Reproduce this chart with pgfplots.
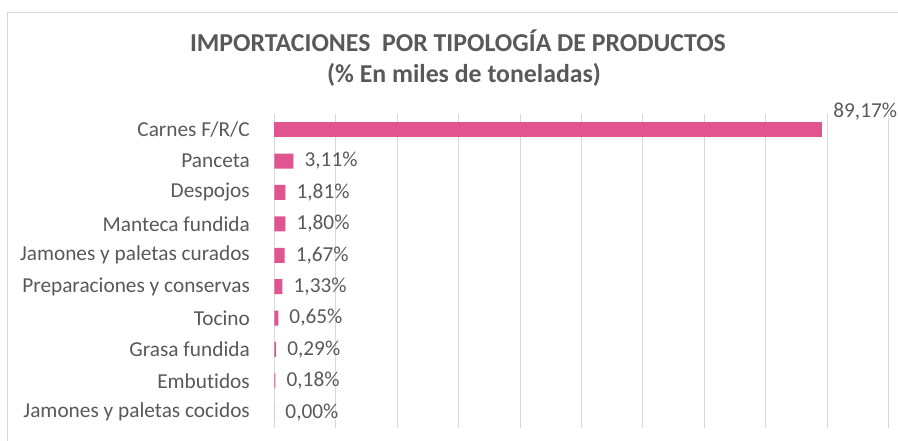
\documentclass[border=0pt]{standalone}
\usepackage{pgfplots}
\pgfplotsset{compat=1.18}
\usepackage{fontspec}
\setmainfont{Carlito}[Ligatures=NoCommon]
\definecolor{barpink}{RGB}{224,85,143}
\definecolor{txtgray}{RGB}{89,89,89}
\definecolor{gridgray}{RGB}{217,217,217}
\begin{document}
\begin{tikzpicture}[x=1pt,y=1pt]
\useasboundingbox (0,0) rectangle (898,441);
\draw[gridgray, line width=1.2pt] (7.7,-5) -- (7.7,428.3) -- (905,428.3);
\node[anchor=base, inner sep=0pt, font=\fontsize{25.8}{30}\selectfont\bfseries, text=txtgray] at (458,389) {IMPORTACIONES\ \ POR TIPOLOGÍA DE PRODUCTOS};
\node[anchor=base, inner sep=0pt, font=\fontsize{25.8}{30}\selectfont\bfseries, text=txtgray] at (464,358) {(\% En miles de toneladas)};
\begin{axis}[
  at={(274.3pt,13pt)}, anchor=south west,
  scale only axis, width=614.4pt, height=314pt,
  xmin=0, xmax=100, ymin=-0.5, ymax=9.5,
  axis line style={draw=none},
  tick style={draw=none},
  xtick={0,10,...,100}, xticklabels={},
  xmajorgrids, major grid style={gridgray, line width=1pt},
  ytick={0,...,9},
  yticklabels={Jamones y paletas cocidos\hspace{4.8pt}, Embutidos, Grasa fundida, Tocino, Preparaciones y conservas, Jamones y paletas curados\hspace{4.8pt}, Manteca fundida, Despojos, Panceta\hspace{4.8pt}, Carnes F/R/C},
  yticklabel style={font=\fontsize{21.3}{24}\selectfont, text=txtgray, inner sep=0pt, anchor=east, xshift=-20pt},
  xbar, bar width=15pt, bar shift=0pt,
  nodes near coords, point meta=explicit symbolic,
  nodes near coords style={font=\fontsize{21.3}{24}\selectfont, text=txtgray, anchor=west, inner sep=0pt, xshift=11pt},
  clip=false,
]
\addplot[fill=barpink, draw=none, nodes near coords style={yshift=18pt}] coordinates {(89.17,9) [89,17\%]};
\addplot[fill=barpink, draw=none] coordinates {
(3.11,8) [3,11\%]
(1.81,7) [1,81\%]
(1.80,6) [1,80\%]
(1.67,5) [1,67\%]
(1.33,4) [1,33\%]
(0.65,3) [0,65\%]
(0.29,2) [0,29\%]
(0.18,1) [0,18\%]
(0.00,0) [0,00\%]
};
\end{axis}
\end{tikzpicture}
\end{document}
